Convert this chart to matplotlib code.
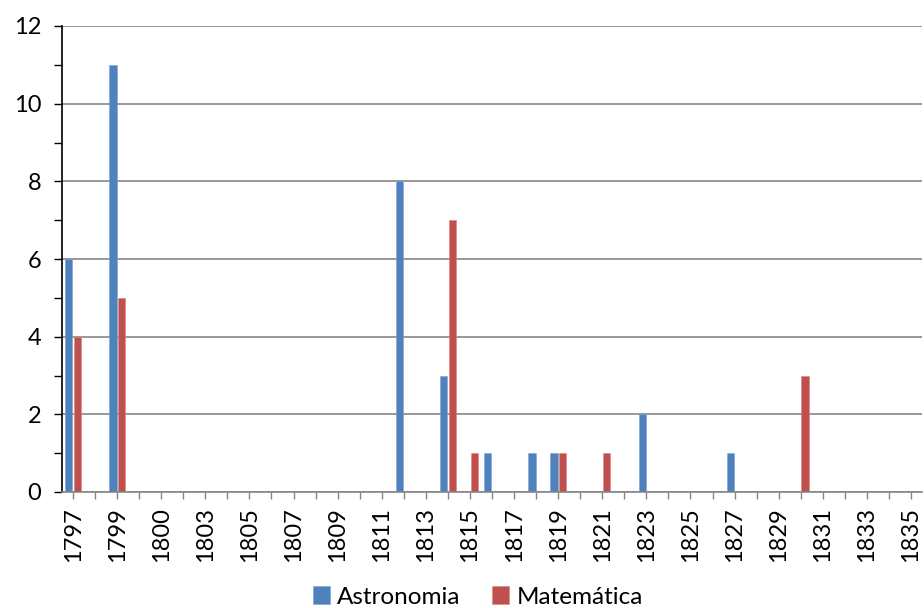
import numpy as np
import matplotlib
matplotlib.use("Agg")
import matplotlib.pyplot as plt
from matplotlib.ticker import MultipleLocator

plt.rcParams['font.family'] = ['Lato', 'DejaVu Sans']

# categories on the x axis (only every other one is labelled)
years = ['1797', '1798', '1799', '1799b', '1800', '1801', '1803', '1804', '1805', '1806',
         '1807', '1808', '1809', '1810', '1811', '1812', '1813', '1814', '1815', '1816',
         '1817', '1818', '1819', '1820', '1821', '1822', '1823', '1824', '1825', '1826',
         '1827', '1828', '1829', '1830', '1831', '1832', '1833', '1834', '1835']

astronomia = [6, 0, 11, 0, 0, 0, 0, 0, 0, 0,
              0, 0, 0, 0, 0, 8, 0, 3, 0, 1,
              0, 1, 1, 0, 0, 0, 2, 0, 0, 0,
              1, 0, 0, 0, 0, 0, 0, 0, 0]
matematica = [4, 0, 5, 0, 0, 0, 0, 0, 0, 0,
              0, 0, 0, 0, 0, 0, 0, 7, 1, 0,
              0, 0, 1, 0, 1, 0, 0, 0, 0, 0,
              0, 0, 0, 3, 0, 0, 0, 0, 0]

blue = '#4F81BD'
red = '#C0504D'
grid_gray = '#868686'

fig = plt.figure(figsize=(9.24, 6.08), dpi=100)
ax = fig.add_axes([62 / 924, 116 / 608, 860 / 924, 466 / 608])

x = np.arange(len(years))
w = 0.33
ax.bar(x - 0.19, astronomia, width=w, color=blue, edgecolor='#7FA3D0', linewidth=0.4,
       label='Astronomia', zorder=3)
ax.bar(x + 0.2, matematica, width=w, color=red, edgecolor='#D88683', linewidth=0.4,
       label='Matemática', zorder=3)

ax.set_xlim(-0.5, len(years) - 0.5)
ax.set_ylim(0, 12)

# y axis
ax.yaxis.set_major_locator(MultipleLocator(2))
ax.yaxis.set_minor_locator(MultipleLocator(1))
ax.tick_params(axis='y', which='both', direction='out', length=6, width=1,
               color='black', labelsize=17, pad=9)
ax.grid(axis='y', which='major', color=grid_gray, linewidth=1.2, zorder=0)

# x axis
ax.set_xticks(x)
ax.set_xticklabels([y if i % 2 == 0 else '' for i, y in enumerate(years)],
                   rotation=90, fontsize=17)
ax.tick_params(axis='x', direction='out', length=5, width=1, color=grid_gray, pad=6)

for s in ['top', 'right']:
    ax.spines[s].set_visible(False)
ax.spines['left'].set_color('black')
ax.spines['left'].set_linewidth(1.2)
ax.spines['bottom'].set_color(grid_gray)
ax.spines['bottom'].set_linewidth(1.2)
ax.spines['bottom'].set_zorder(4)

fig.legend(loc='center', bbox_to_anchor=(478 / 924, 1 - 597 / 608), ncol=2, frameon=False,
           fontsize=17.5, handlelength=0.7, handleheight=0.7, handletextpad=0.3,
           columnspacing=1.3)

fig.savefig('out.png', dpi=100)
